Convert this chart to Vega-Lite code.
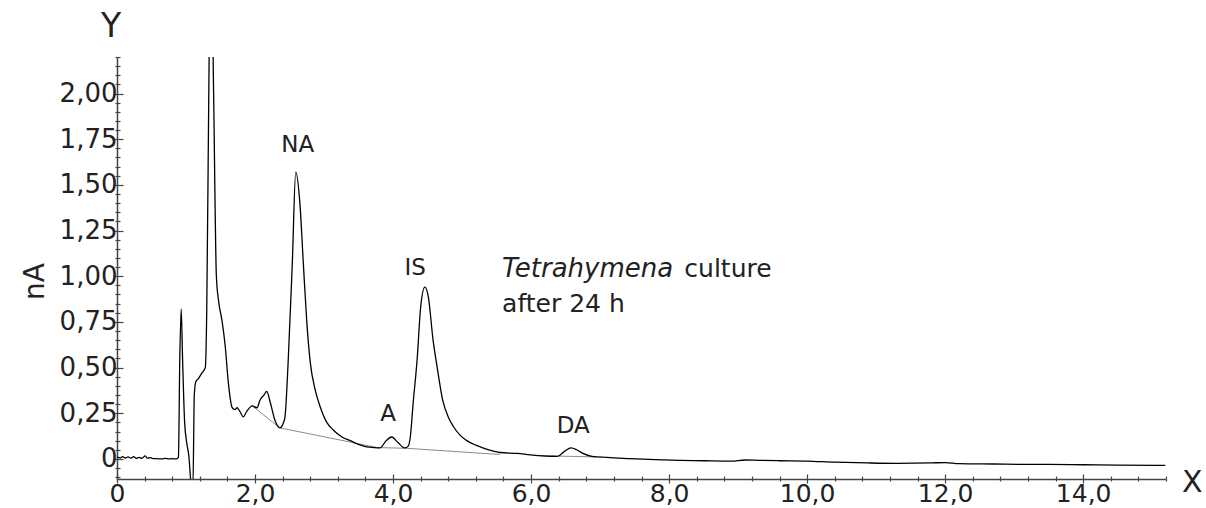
{
  "$schema": "https://vega.github.io/schema/vega-lite/v6.json",
  "width": 1049,
  "height": 422,
  "autosize": {"type": "none"},
  "padding": {"left": 117, "top": 57, "right": 40, "bottom": 29},
  "background": "white",
  "config": {"view": {"stroke": null}, "axis": {"grid": false}},
  "datasets": {
    "curve": [
      {"t": 0.00, "v": 0.010}, {"t": 0.05, "v": 0.006}, {"t": 0.08, "v": 0.013}, {"t": 0.12, "v": 0.005},
      {"t": 0.16, "v": 0.011}, {"t": 0.20, "v": 0.004}, {"t": 0.24, "v": 0.012}, {"t": 0.28, "v": 0.003},
      {"t": 0.32, "v": 0.008}, {"t": 0.36, "v": 0.003}, {"t": 0.41, "v": 0.017}, {"t": 0.44, "v": 0.004},
      {"t": 0.48, "v": 0.007}, {"t": 0.52, "v": 0.002}, {"t": 0.58, "v": 0.001}, {"t": 0.65, "v": 0.0},
      {"t": 0.70, "v": 0.003}, {"t": 0.75, "v": 0.0}, {"t": 0.80, "v": 0.001}, {"t": 0.86, "v": 0.0},
      {"t": 0.89, "v": 0.01}, {"t": 0.91, "v": 0.55}, {"t": 0.93, "v": 0.82}, {"t": 0.95, "v": 0.55},
      {"t": 0.98, "v": 0.2}, {"t": 1.01, "v": 0.09}, {"t": 1.04, "v": 0.02}, {"t": 1.08, "v": -0.15},
      {"t": 1.10, "v": -0.15}, {"t": 1.12, "v": 0.35}, {"t": 1.14, "v": 0.42}, {"t": 1.18, "v": 0.44},
      {"t": 1.23, "v": 0.47}, {"t": 1.28, "v": 0.5}, {"t": 1.30, "v": 0.8}, {"t": 1.33, "v": 2.0},
      {"t": 1.36, "v": 3.0}, {"t": 1.40, "v": 2.0}, {"t": 1.44, "v": 1.0}, {"t": 1.47, "v": 0.87},
      {"t": 1.52, "v": 0.76}, {"t": 1.57, "v": 0.61}, {"t": 1.61, "v": 0.43}, {"t": 1.67, "v": 0.28},
      {"t": 1.71, "v": 0.27}, {"t": 1.74, "v": 0.28}, {"t": 1.78, "v": 0.26}, {"t": 1.83, "v": 0.23},
      {"t": 1.88, "v": 0.26}, {"t": 1.96, "v": 0.29}, {"t": 2.03, "v": 0.28}, {"t": 2.07, "v": 0.32},
      {"t": 2.13, "v": 0.35}, {"t": 2.17, "v": 0.37}, {"t": 2.22, "v": 0.31}, {"t": 2.29, "v": 0.21},
      {"t": 2.36, "v": 0.17}, {"t": 2.43, "v": 0.22}, {"t": 2.48, "v": 0.53}, {"t": 2.54, "v": 1.07},
      {"t": 2.59, "v": 1.57}, {"t": 2.65, "v": 1.4}, {"t": 2.70, "v": 1.07}, {"t": 2.75, "v": 0.75},
      {"t": 2.80, "v": 0.53}, {"t": 2.87, "v": 0.38}, {"t": 2.94, "v": 0.29}, {"t": 3.04, "v": 0.2},
      {"t": 3.13, "v": 0.16}, {"t": 3.26, "v": 0.12}, {"t": 3.38, "v": 0.1}, {"t": 3.52, "v": 0.077},
      {"t": 3.62, "v": 0.066}, {"t": 3.72, "v": 0.062}, {"t": 3.81, "v": 0.06}, {"t": 3.90, "v": 0.1},
      {"t": 3.98, "v": 0.12}, {"t": 4.07, "v": 0.09}, {"t": 4.17, "v": 0.06}, {"t": 4.22, "v": 0.07},
      {"t": 4.25, "v": 0.12}, {"t": 4.29, "v": 0.3}, {"t": 4.35, "v": 0.55}, {"t": 4.40, "v": 0.83},
      {"t": 4.46, "v": 0.94}, {"t": 4.51, "v": 0.89}, {"t": 4.58, "v": 0.65}, {"t": 4.64, "v": 0.5},
      {"t": 4.72, "v": 0.32}, {"t": 4.80, "v": 0.23}, {"t": 4.87, "v": 0.18}, {"t": 4.97, "v": 0.13},
      {"t": 5.07, "v": 0.1}, {"t": 5.20, "v": 0.075}, {"t": 5.30, "v": 0.06}, {"t": 5.55, "v": 0.035},
      {"t": 5.80, "v": 0.03}, {"t": 5.99, "v": 0.022}, {"t": 6.20, "v": 0.016}, {"t": 6.38, "v": 0.014},
      {"t": 6.48, "v": 0.04}, {"t": 6.58, "v": 0.06}, {"t": 6.66, "v": 0.05}, {"t": 6.75, "v": 0.03},
      {"t": 6.88, "v": 0.014}, {"t": 7.10, "v": 0.008}, {"t": 7.43, "v": 0.002}, {"t": 7.80, "v": -0.004},
      {"t": 8.16, "v": -0.008}, {"t": 8.50, "v": -0.01}, {"t": 8.90, "v": -0.012}, {"t": 9.10, "v": -0.006},
      {"t": 9.30, "v": -0.008}, {"t": 9.60, "v": -0.01}, {"t": 10.00, "v": -0.012}, {"t": 10.40, "v": -0.018},
      {"t": 10.87, "v": -0.022}, {"t": 11.30, "v": -0.024}, {"t": 11.80, "v": -0.022}, {"t": 12.00, "v": -0.02},
      {"t": 12.20, "v": -0.026}, {"t": 12.70, "v": -0.028}, {"t": 13.20, "v": -0.03}, {"t": 13.50, "v": -0.03},
      {"t": 14.00, "v": -0.032}, {"t": 14.50, "v": -0.034}, {"t": 15.19, "v": -0.035}
    ],
    "base": [
      {"t": 1.96, "v": 0.29, "seg": "a"}, {"t": 2.36, "v": 0.17, "seg": "a"}, {"t": 3.77, "v": 0.062, "seg": "a"},
      {"t": 4.2, "v": 0.058, "seg": "a"}, {"t": 5.55, "v": 0.024, "seg": "a"},
      {"t": 6.3, "v": 0.016, "seg": "b"}, {"t": 6.95, "v": 0.011, "seg": "b"}
    ],
    "peaks": [
      {"t": 2.62, "v": 1.68, "label": "NA"},
      {"t": 4.32, "v": 1.007, "label": "IS"},
      {"t": 3.93, "v": 0.208, "label": "A"},
      {"t": 6.61, "v": 0.142, "label": "DA"}
    ],
    "italic": [{"t": 5.58, "v": 0.996, "label": "Tetrahymena"}],
    "plain": [
      {"t": 8.22, "v": 0.996, "label": "culture"},
      {"t": 5.58, "v": 0.805, "label": "after 24 h"}
    ],
    "ylet": [{"t": -0.087, "v": 2.31, "label": "Y"}],
    "xlet": [{"t": 15.58, "v": -0.18, "label": "X"}]
  },
  "layer": [
    {
      "data": {"name": "base"},
      "mark": {"type": "line", "color": "#8a8a8a", "strokeWidth": 1, "clip": true},
      "encoding": {
        "x": {"field": "t", "type": "quantitative", "scale": {"domain": [0, 15.2], "nice": false, "zero": false},
          "axis": {"orient": "bottom", "domain": false, "labels": false, "title": null, "tickColor": "#444", "tickWidth": 1.2,
            "values": [0,0.4,0.8,1.2,1.6,2,2.4,2.8,3.2,3.6,4,4.4,4.8,5.2,5.6,6,6.4,6.8,7.2,7.6,8,8.4,8.8,9.2,9.6,10,10.4,10.8,11.2,11.6,12,12.4,12.8,13.2,13.6,14,14.4,14.8,15.2],
            "tickSize": {"condition": {"test": "abs(datum.value/2-round(datum.value/2))<0.001", "value": -5}, "value": -3}}},
        "y": {"field": "v", "type": "quantitative", "scale": {"domain": [-0.11, 2.2], "nice": false, "zero": false},
          "axis": {"orient": "left", "domain": false, "labels": false, "title": null, "tickColor": "#444", "tickWidth": 1.2,
            "values": [-0.1,-0.05,0,0.05,0.1,0.15,0.2,0.25,0.3,0.35,0.4,0.45,0.5,0.55,0.6,0.65,0.7,0.75,0.8,0.85,0.9,0.95,1,1.05,1.1,1.15,1.2,1.25,1.3,1.35,1.4,1.45,1.5,1.55,1.6,1.65,1.7,1.75,1.8,1.85,1.9,1.95,2,2.05,2.1,2.15,2.2],
            "tickSize": {"condition": {"test": "abs(datum.value*4-round(datum.value*4))<0.001", "value": -6}, "value": -3}}},
        "detail": {"field": "seg"}
      }
    },
    {
      "data": {"name": "curve"},
      "mark": {"type": "line", "color": "#000000", "strokeWidth": 1.3, "clip": true, "interpolate": "monotone"},
      "encoding": {
        "x": {"field": "t", "type": "quantitative", "scale": {"domain": [0, 15.2], "nice": false, "zero": false},
          "axis": {"orient": "bottom", "title": null, "domainColor": "#444", "domainWidth": 1.5, "tickColor": "#444", "tickWidth": 1.2,
            "values": [0,0.4,0.8,1.2,1.6,2,2.4,2.8,3.2,3.6,4,4.4,4.8,5.2,5.6,6,6.4,6.8,7.2,7.6,8,8.4,8.8,9.2,9.6,10,10.4,10.8,11.2,11.6,12,12.4,12.8,13.2,13.6,14,14.4,14.8,15.2],
            "tickSize": {"condition": {"test": "abs(datum.value/2-round(datum.value/2))<0.001", "value": 4}, "value": 2},
            "labelExpr": "abs(datum.value/2-round(datum.value/2))<0.001 ? (datum.value==0 ? '0' : replace(format(datum.value,'.1f'),'.',',')) : ''",
            "labelFont": "DejaVu Sans", "labelFontSize": 25, "labelColor": "#222", "labelPadding": -2,
            "labelOverlap": false, "labelFlush": false, "labelBound": false}},
        "y": {"field": "v", "type": "quantitative", "scale": {"domain": [-0.11, 2.2], "nice": false, "zero": false},
          "axis": {"orient": "left", "domainColor": "#444", "domainWidth": 1.5, "tickColor": "#444", "tickWidth": 1.2,
            "values": [-0.1,-0.05,0,0.05,0.1,0.15,0.2,0.25,0.3,0.35,0.4,0.45,0.5,0.55,0.6,0.65,0.7,0.75,0.8,0.85,0.9,0.95,1,1.05,1.1,1.15,1.2,1.25,1.3,1.35,1.4,1.45,1.5,1.55,1.6,1.65,1.7,1.75,1.8,1.85,1.9,1.95,2,2.05,2.1,2.15,2.2],
            "tickSize": {"condition": {"test": "abs(datum.value*4-round(datum.value*4))<0.001", "value": 4}, "value": 2},
            "labelExpr": "abs(datum.value*4-round(datum.value*4))<0.001 && datum.value>=0 ? (datum.value==0 ? '0' : replace(format(datum.value,'.2f'),'.',',')) : ''",
            "labelFont": "DejaVu Sans", "labelFontSize": 26, "labelColor": "#222", "labelPadding": -4,
            "labelOverlap": false, "labelBound": false,
            "title": "nA", "titleFont": "DejaVu Sans", "titleFontSize": 28, "titleFontWeight": "normal", "titleColor": "#222",
            "titleX": -82, "titleY": 224, "titleAngle": -90, "titleAlign": "center", "titleBaseline": "middle"}}
      }
    },
    {
      "data": {"name": "peaks"},
      "mark": {"type": "text", "font": "DejaVu Sans", "fontSize": 23, "color": "#222", "align": "center", "baseline": "alphabetic"},
      "encoding": {
        "x": {"field": "t", "type": "quantitative", "axis": null},
        "y": {"field": "v", "type": "quantitative", "axis": null},
        "text": {"field": "label"}
      }
    },
    {
      "data": {"name": "italic"},
      "mark": {"type": "text", "font": "DejaVu Sans", "fontSize": 26, "fontStyle": "italic", "color": "#222", "align": "left", "baseline": "alphabetic"},
      "encoding": {
        "x": {"field": "t", "type": "quantitative", "axis": null},
        "y": {"field": "v", "type": "quantitative", "axis": null},
        "text": {"field": "label"}
      }
    },
    {
      "data": {"name": "plain"},
      "mark": {"type": "text", "font": "DejaVu Sans", "fontSize": 25, "color": "#222", "align": "left", "baseline": "alphabetic"},
      "encoding": {
        "x": {"field": "t", "type": "quantitative", "axis": null},
        "y": {"field": "v", "type": "quantitative", "axis": null},
        "text": {"field": "label"}
      }
    },
    {
      "data": {"name": "ylet"},
      "mark": {"type": "text", "font": "DejaVu Sans", "fontSize": 33, "color": "#222", "align": "center", "baseline": "alphabetic"},
      "encoding": {
        "x": {"field": "t", "type": "quantitative", "axis": null},
        "y": {"field": "v", "type": "quantitative", "axis": null},
        "text": {"field": "label"}
      }
    },
    {
      "data": {"name": "xlet"},
      "mark": {"type": "text", "font": "DejaVu Sans", "fontSize": 30, "color": "#222", "align": "center", "baseline": "alphabetic"},
      "encoding": {
        "x": {"field": "t", "type": "quantitative", "axis": null},
        "y": {"field": "v", "type": "quantitative", "axis": null},
        "text": {"field": "label"}
      }
    }
  ],
  "resolve": {"axis": {"x": "independent", "y": "independent"}}
}
